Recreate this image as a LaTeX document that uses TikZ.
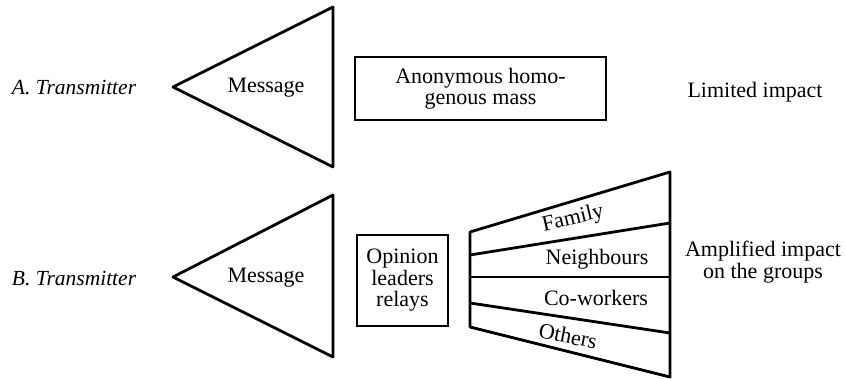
\documentclass[tikz,border=0pt]{standalone}
\usepackage{fontspec}
\setmainfont{Liberation Serif}
\begin{document}
\begin{tikzpicture}[x=1pt,y=-1pt,
  lbl/.style={inner sep=0pt, font=\fontsize{22}{21.5}\selectfont, align=center},
  ital/.style={lbl, font=\fontsize{21.5}{21.5}\selectfont\itshape},
  shp/.style={line width=2.8pt, line join=round}]
\useasboundingbox (0,0) rectangle (845,379);
% ---- A row
\coordinate (a1) at (173,87);
\coordinate (a2) at (333,7);
\coordinate (a3) at (333,167);
\draw[shp] (a2) -- (a1) -- (a3) -- cycle;
\node[ital] (ta) at (74,88) {A. Transmitter};
\node[lbl] (ma) at (266,88) {Message};
\node[lbl, draw, line width=2.8pt, minimum width=251pt, minimum height=63pt] (mass) at (480.5,88.5) {Anonymous homo-\\genous mass};
\node[lbl] (lim) at (755,92) {Limited impact};
% ---- B row
\coordinate (b1) at (173,277);
\coordinate (b2) at (333,195);
\coordinate (b3) at (333,357);
\draw[shp] (b2) -- (b1) -- (b3) -- cycle;
\node[ital] (tb) at (74,279) {B. Transmitter};
\node[lbl] (mb) at (266,278) {Message};
\node[lbl, draw, line width=2.8pt, minimum width=91pt, minimum height=91pt] (op) at (402.5,280.5) {Opinion\\leaders\\relays};
% trapezoid of groups
\coordinate (l1) at (470,232);
\coordinate (r1) at (670,172);
\coordinate (l2) at (470,255);
\coordinate (r2) at (670,223);
\coordinate (l3) at (470,277);
\coordinate (r3) at (670,277);
\coordinate (l4) at (470,303);
\coordinate (r4) at (670,333);
\coordinate (l5) at (470,327);
\coordinate (r5) at (670,377);
\draw[shp] (r1) -- (l1) -- (l5) -- (r5) -- cycle;
\draw[shp] (l2) -- (r2);
\draw[shp] (l3) -- (r3);
\draw[shp] (l4) -- (r4);
\node[lbl, rotate=13] (fam) at (573,219) {Family};
\node[lbl] (nei) at (597,259) {Neighbours};
\node[lbl] (cow) at (596,298) {Co-workers};
\node[lbl, rotate=-11] (oth) at (568,336) {Others};
\node[lbl] (amp) at (763,262) {Amplified impact\\on the groups};
\end{tikzpicture}
\end{document}
